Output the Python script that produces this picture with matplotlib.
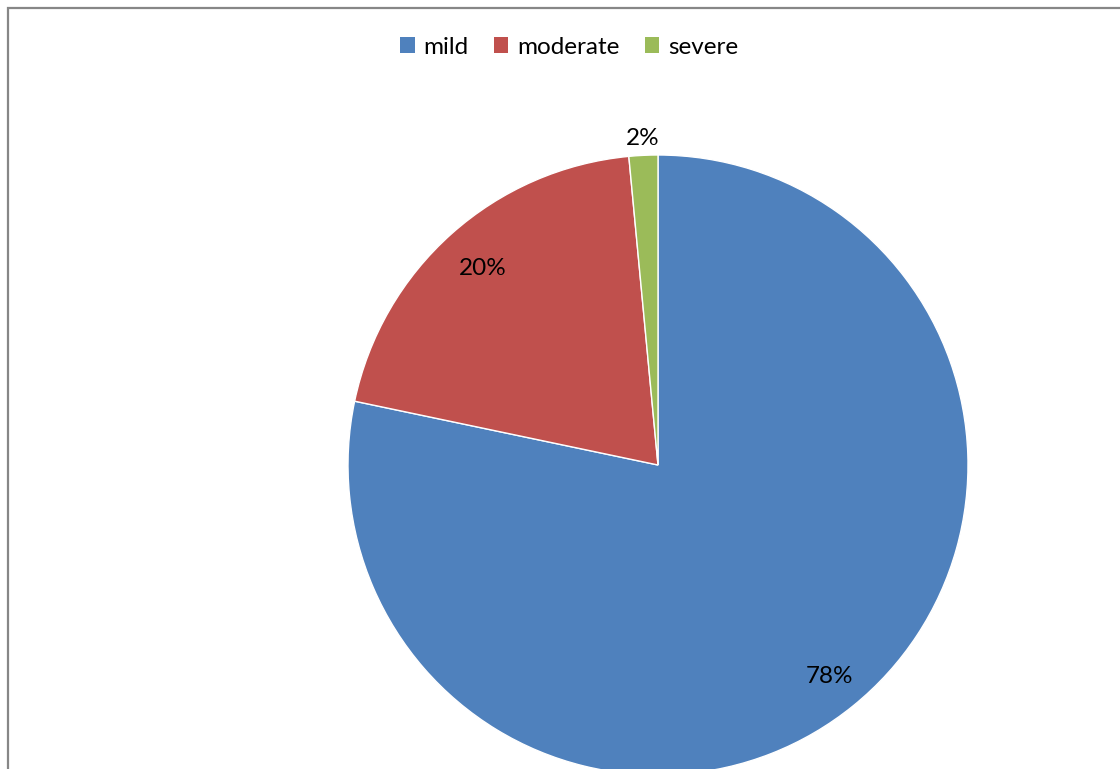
import numpy as np
import matplotlib.pyplot as plt
from matplotlib.patches import Patch, Rectangle

# data
categories = ["mild", "moderate", "severe"]
shares = [78.3, 20.2, 1.5]
colors = ["#4F81BD", "#C0504D", "#9BBB59"]
label_dist = [0.88, 0.85, 1.055]

plt.rcParams["font.family"] = ["Lato", "DejaVu Sans"]

fig = plt.figure(figsize=(11.2, 7.69), dpi=100)

# chart area border (right and bottom edges fall outside the picture)
fig.patches.append(
    Rectangle(
        (7.5 / 1120, -0.05), 1.2, 1 - 8 / 769 + 0.05,
        transform=fig.transFigure,
        facecolor="none",
        edgecolor="#878787",
        linewidth=1.6
    )
)

ax = fig.add_axes([348 / 1120, (769 - 775) / 769, 620 / 1120, 620 / 769])

wedges, _ = ax.pie(
    shares,
    colors=colors,
    startangle=90,
    counterclock=False,
    wedgeprops={"edgecolor": "white", "linewidth": 1}
)

ax.set_xlim(-1, 1)
ax.set_ylim(-1, 1)
ax.set_aspect("equal")
ax.axis("off")

# percentage labels
for w, val, d in zip(wedges, shares, label_dist):
    mid = np.deg2rad((w.theta1 + w.theta2) / 2)
    ax.text(
        d * np.cos(mid), d * np.sin(mid),
        f"{val:.0f}%",
        ha="center", va="center",
        fontsize=17.5, color="black"
    )

handles = [Patch(facecolor=c, edgecolor="none") for c in colors]

fig.legend(
    handles, categories,
    loc="center",
    bbox_to_anchor=(0.508, 1 - 47 / 769),
    ncol=3,
    frameon=False,
    fontsize=17.5,
    handlelength=0.6,
    handleheight=0.6,
    handletextpad=0.35,
    columnspacing=1.05
)

fig.savefig("out.png", dpi=100)
